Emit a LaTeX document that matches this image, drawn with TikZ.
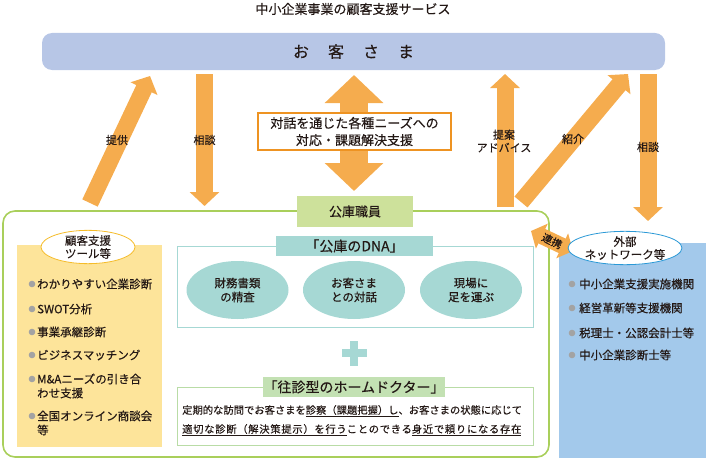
\documentclass[tikz,border=0pt]{standalone}
\usepackage{fontspec}
\setmainfont{Noto Sans CJK JP}[FakeBold=0.3]
\newfontfamily\jpspaced[LetterSpace=7,FakeBold=0.3]{Noto Sans CJK JP}
\usepackage{tikz}
\usetikzlibrary{arrows.meta}
\usetikzlibrary{shapes.geometric}
\definecolor{cust}{HTML}{B7C6E6}
\definecolor{orng}{HTML}{F5AC4E}
\definecolor{orngline}{HTML}{EE9322}
\definecolor{frame}{HTML}{A9CF5B}
\definecolor{staff}{HTML}{CDE19B}
\definecolor{tool}{HTML}{FDE49A}
\definecolor{toolline}{HTML}{F5BC2A}
\definecolor{dna}{HTML}{A6D8D4}
\definecolor{doc}{HTML}{C3E1B3}
\definecolor{docline}{HTML}{B9DCA6}
\definecolor{net}{HTML}{A3C9EB}
\definecolor{netline}{HTML}{2B99D6}
\definecolor{dot}{HTML}{A3A3A3}
\definecolor{ink}{HTML}{231815}
\tikzstyle{blockarrow}=[draw=orng, line width=17pt, -{Triangle[width=29pt,length=14pt]}]
\tikzstyle{lbl}=[text=ink, font=\fontsize{11}{13}\selectfont, align=center, inner sep=0]
\tikzstyle{item}=[text=ink, font=\fontsize{11.5}{14}\selectfont, align=left, anchor=west, inner sep=0]
\tikzstyle{oval}=[ellipse, text=ink, inner sep=0, align=center, font=\fontsize{11.5}{14}\selectfont]

\begin{document}
\begin{tikzpicture}[x=1pt, y=-1pt]
    \useasboundingbox (0,0) rectangle (706,460);

      \node[text=ink, font=\fontsize{13}{15}\selectfont] (title) at (353,9) {中小企業事業の顧客支援サービス};

      \node[fill=cust, rounded corners=10pt, minimum width=623pt, minimum height=37pt,
            text=ink, font=\fontsize{16}{18}\selectfont] (cust) at (353.5,51.5)
            {お\hspace{19pt}客\hspace{19pt}さ\hspace{19pt}ま};

      % panels
      \node[draw=frame, line width=1.6pt, rounded corners=12pt, minimum width=546pt,
            minimum height=246pt] (kouko) at (276,334) {};
      \node[fill=tool, minimum width=145pt, minimum height=202pt] (tools) at (89.5,346) {};
      \node[fill=net, minimum width=147pt, minimum height=215pt] (netw) at (632.5,350.5) {};

      % arrows
      \coordinate (prov-s) at (90,203);   \coordinate (prov-e) at (150,76);
      \coordinate (cons-s) at (204.5,74); \coordinate (cons-e) at (204.5,206);
      \coordinate (talk-s) at (354,191);  \coordinate (talk-e) at (354,75);
      \coordinate (adv-s) at (505,207);   \coordinate (adv-e) at (505,74);
      \coordinate (intro-s) at (521,202); \coordinate (intro-e) at (628,74);
      \coordinate (ncons-s) at (648,74);  \coordinate (ncons-e) at (648,221);
      \coordinate (link-s) at (531,231);  \coordinate (link-e) at (573,251);

      \draw[blockarrow] (prov-s) -- (prov-e);
      \draw[blockarrow] (cons-s) -- (cons-e);
      \draw[blockarrow] (adv-s) -- (adv-e);
      \draw[blockarrow] (intro-s) -- (intro-e);
      \draw[blockarrow] (ncons-s) -- (ncons-e);
      \draw[draw=orng, line width=28pt,
            {Triangle[width=57pt,length=28pt]}-{Triangle[width=57pt,length=28pt]}] (talk-s) -- (talk-e);
      \draw[draw=orng, line width=16pt,
            {Triangle[width=27pt,length=12pt]}-{Triangle[width=27pt,length=12pt]}] (link-s) -- (link-e);

      \node[lbl] (prov-l) at (117,140) {提供};
      \node[lbl] (cons-l) at (204.5,140) {相談};
      \node[lbl] (adv-l) at (504,141) {提案\\アドバイス};
      \node[lbl] (intro-l) at (573,139) {紹介};
      \node[lbl] (ncons-l) at (648,147) {相談};
      \node[lbl, rotate=-26, font=\fontsize{10.5}{12}\selectfont] (link-l) at (552,241) {連携};

      \node[draw=orngline, line width=2pt, fill=white, minimum width=193pt, minimum height=37pt,
            text=ink, align=center, inner sep=0, font=\fontsize{13}{17}\selectfont] (talk)
            at (354.5,131.5) {対話を通じた各種ニーズへの\\対応・課題解決支援};

      \node[fill=staff, minimum width=116pt, minimum height=31pt, text=ink,
            font=\fontsize{13}{15}\selectfont] (staff) at (355,211.5) {公庫職員};

      % DNA
      \draw[dna, line width=1pt] (177,246) rectangle (533,327);
      \node[fill=dna, minimum width=157pt, minimum height=20pt, inner sep=0, text=ink,
            font=\fontsize{14}{16}\selectfont] (dna) at (354.5,246) {「公庫のDNA」};
      \foreach \x/\n/\t in {237.5/fin/{財務書類\\の精査}, 354/talk2/{お客さま\\との対話}, 471/site/{現場に\\足を運ぶ}}
        \node[oval, fill=dna, minimum width=102pt, minimum height=58pt] (\n) at (\x,290) {\t};

      \fill[dna] (341.5,349) rectangle (366.5,357);
      \fill[dna] (350,340.5) rectangle (358,365.5);

      % home doctor
      \draw[docline, line width=1pt] (177,387) rectangle (533,445);
      \node[fill=doc, minimum width=170pt, minimum height=20pt, inner sep=0, text=ink,
            font=\fontsize{14}{16}\selectfont] (doc) at (354,387) {「往診型のホームドクター」};
      \node[text=ink, anchor=west, inner sep=0, font=\fontsize{10.3}{12}\selectfont] (doc1) at (182,411)
            {定期的な訪問でお客さまを\underline{診察（課題把握）し}、お客さまの状態に応じて};
      \node[text=ink, anchor=west, inner sep=0, font=\jpspaced\fontsize{10.3}{12}\selectfont] (doc2) at (182,430)
            {\underline{適切な診断（解決策提示）を行う}ことのできる\underline{身近で頼りになる存在}};

      % tools
      \node[oval, draw=toolline, fill=white, line width=.8pt, minimum width=94pt,
            minimum height=32pt, font=\fontsize{11.5}{13}\selectfont] (toolhead) at (88,247) {顧客支援\\ツール等};
      \foreach \b/\y/\n/\t in {284/284/t1/わかりやすい企業診断, 309/309/t2/SWOT分析, 332/332/t3/事業承継診断,
                               355/355/t4/ビジネスマッチング, 379/386/t5/{M\&Aニーズの引き合\\わせ支援},
                               416/423/t6/{全国オンライン商談会\\等}}
      {
        \fill[dot] (32,\b) circle (3.3pt);
        \node[item] (\n) at (37,\y) {\t};
      }

      % network
      \node[oval, draw=netline, fill=white, line width=.8pt, minimum width=83pt,
            minimum height=32pt, font=\fontsize{11.5}{13}\selectfont] (nethead) at (625,248) {外部\\ネットワーク等};
      \foreach \y/\n/\t in {284/n1/中小企業支援実施機関, 308/n2/経営革新等支援機関,
                            333/n3/税理士・公認会計士等, 355/n4/中小企業診断士等}
      {
        \fill[dot] (572,\y) circle (3.3pt);
        \node[item] (\n) at (579,\y) {\t};
      }

\end{tikzpicture}
\end{document}
